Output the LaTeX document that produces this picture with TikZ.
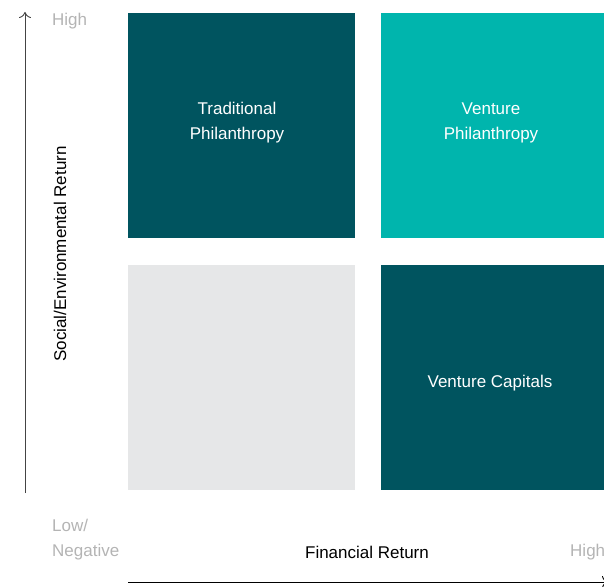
\documentclass[tikz,border=0pt]{standalone}
\usepackage{fontspec}
\setmainfont{Liberation Sans}
\usetikzlibrary{arrows.meta,positioning}

\definecolor{darkteal}{HTML}{00545F}
\definecolor{brightteal}{HTML}{00B5AD}
\definecolor{lightgrey}{HTML}{E6E7E8}
\definecolor{labelgrey}{HTML}{B4B4B4}
\definecolor{axisgrey}{HTML}{444444}

\tikzset{
  quad/.style={minimum width=227pt,minimum height=225pt,inner sep=0pt,anchor=north west},
  quadtext/.style={text=white,align=center,inner sep=0pt,font=\fontsize{17}{25}\selectfont},
  axislabel/.style={font=\fontsize{17}{25}\selectfont,text=labelgrey,inner sep=0pt},
}

\begin{document}
\begin{tikzpicture}[x=1pt,y=-1pt,>=Latex]
\useasboundingbox (0,0) rectangle (604,586);

% quadrants
\node[quad,fill=darkteal] (tl) at (128,13) {};
\node[quad,fill=brightteal] (tr) at (381,13) {};
\node[quad,fill=lightgrey] (bl) at (128,265) {};
\node[quad,fill=darkteal] (br) at (381,265) {};
\node[quadtext] (tltext) at (237,123) {Traditional\\Philanthropy};
\node[quadtext] (trtext) at (491,123) {Venture\\Philanthropy};
\node[quadtext] (brtext) at (490,383) {Venture Capitals};

% axes
\coordinate (yfoot) at (25,493);
\coordinate (ytip) at (25,12);
\draw[->,>={To[length=6pt,width=12pt]},axisgrey,line width=0.9pt] (yfoot) -- (ytip);
\coordinate (xfoot) at (128,582);
\coordinate (xtip) at (608,582);
\draw[->,>={To[length=6pt,width=12pt]},black,line width=0.9pt] (xfoot) -- (xtip);

% labels
\node[axislabel,anchor=west] (yhigh) at (52,21) {High};
\node[axislabel,anchor=west,align=left] (ylow) at (52,540) {Low/\\Negative};
\node[axislabel,anchor=west] (xhigh) at (570,552) {High};
\node[font=\fontsize{17}{25}\selectfont,inner sep=0pt] (xname) at (367,552) {Financial Return};
\node[font=\fontsize{17}{25}\selectfont,inner sep=0pt,rotate=90] (yname) at (60,254) {Social/Environmental Return};
\end{tikzpicture}
\end{document}
